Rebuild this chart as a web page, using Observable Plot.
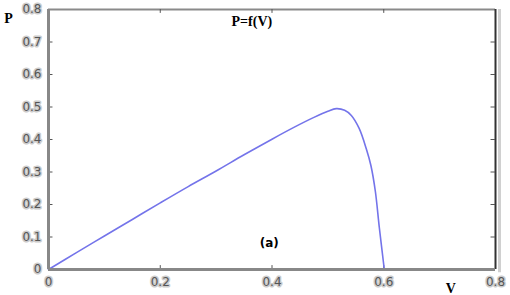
<!DOCTYPE html>
<html><head><meta charset="utf-8">
<script src="https://cdn.jsdelivr.net/npm/d3@7"></script>
<script src="https://cdn.jsdelivr.net/npm/@observablehq/plot@0.6"></script>
<style>
body{margin:0;background:#fff;}
#c{position:relative;width:510px;height:295px;}
</style>
</head><body><div id="c"></div>
<script>
const V = [0, 0.05, 0.1, 0.15, 0.2, 0.25, 0.3, 0.35, 0.4, 0.44, 0.475, 0.5, 0.515, 0.53, 0.542, 0.556, 0.569, 0.577, 0.585, 0.592, 0.601];
const P = [0, 0.052, 0.103, 0.154, 0.205, 0.255, 0.303, 0.353, 0.401, 0.438, 0.468, 0.487, 0.495, 0.49, 0.474, 0.434, 0.37, 0.32, 0.24, 0.13, 0];
const xTicks = [0, 0.2, 0.4, 0.6, 0.8];
const yTicks = [0, 0.1, 0.2, 0.3, 0.4, 0.5, 0.6, 0.7, 0.8];
const xLabels = ["0", "0.2", "0.4", "0.6", "0.8"];
const yLabels = ["0", "0.1", "0.2", "0.3", "0.4", "0.5", "0.6", "0.7", "0.8"];
const title = "P=f(V)";
const note = "(a)";
const xName = "V", yName = "P";

const data = V.map((v, i) => ({v, p: P[i]}));
const lblStyle = {fill: "#555", stroke: "#cccccc", strokeWidth: 3, fontSize: 12, fontFamily: "DejaVu Sans"};

const chart = Plot.plot({
  width: 510, height: 295,
  marginLeft: 48, marginRight: 15, marginTop: 9, marginBottom: 26,
  x: {domain: [0, 0.8], axis: null},
  y: {domain: [0, 0.8], axis: null},
  style: {background: "#fff", overflow: "visible"},
  marks: [
    Plot.ruleX([0.8], {dx: 4, y1: -0.01, y2: 0.8, stroke: "#d0d0d0", strokeWidth: 3}),
    Plot.ruleY([0.8], {stroke: "#8a8a8a", strokeWidth: 2}),
    Plot.ruleX([0.8], {stroke: "#333", strokeWidth: 2}),
    Plot.ruleY(yTicks.slice(1, -1), {y: d => d, x1: 0, x2: 0.008, stroke: "#555", strokeWidth: 1}),
    Plot.ruleY(yTicks.slice(1, -1), {y: d => d, x1: 0.792, x2: 0.8, stroke: "#555", strokeWidth: 1}),
    Plot.ruleX(xTicks.slice(1, -1), {x: d => d, y1: 0, y2: 0.012, stroke: "#555", strokeWidth: 1}),
    Plot.ruleX(xTicks.slice(1, -1), {x: d => d, y1: 0.788, y2: 0.8, stroke: "#555", strokeWidth: 1}),
    Plot.line(data, {x: "v", y: "p", stroke: "#7474ea", strokeWidth: 1.6, curve: "catmull-rom"}),
    Plot.ruleX([0], {stroke: "#888", strokeWidth: 3}),
    Plot.ruleY([0], {stroke: "#888", strokeWidth: 3}),
    Plot.text(yTicks, {x: 0, y: d => d, text: (d, i) => yLabels[i], textAnchor: "end", dx: -7, ...lblStyle, paintOrder: "stroke"}),
    Plot.text(xTicks, {x: d => d, y: 0, text: (d, i) => xLabels[i], dy: 13, ...lblStyle, paintOrder: "stroke"}),
    Plot.text([yName], {x: 0, y: 0.8, text: d => d, dx: -40, dy: 9, fontFamily: "Liberation Serif", fontWeight: "bold", fontSize: 14, fill: "#000"}),
    Plot.text([xName], {x: 0.72, y: 0, text: d => d, dy: 19, fontFamily: "Liberation Serif", fontWeight: "bold", fontSize: 14, fill: "#000"}),
    Plot.text([title], {x: 0.364, y: 0.8, text: d => d, dy: 12, fontFamily: "Liberation Serif", fontWeight: "bold", fontSize: 14, fill: "#000"}),
    Plot.text([note], {x: 0.395, y: 0.08, text: d => d, fontFamily: "DejaVu Sans", fontWeight: "bold", fontSize: 12, fill: "#000"})
  ]
});
document.getElementById("c").appendChild(chart);
</script>
</body></html>
